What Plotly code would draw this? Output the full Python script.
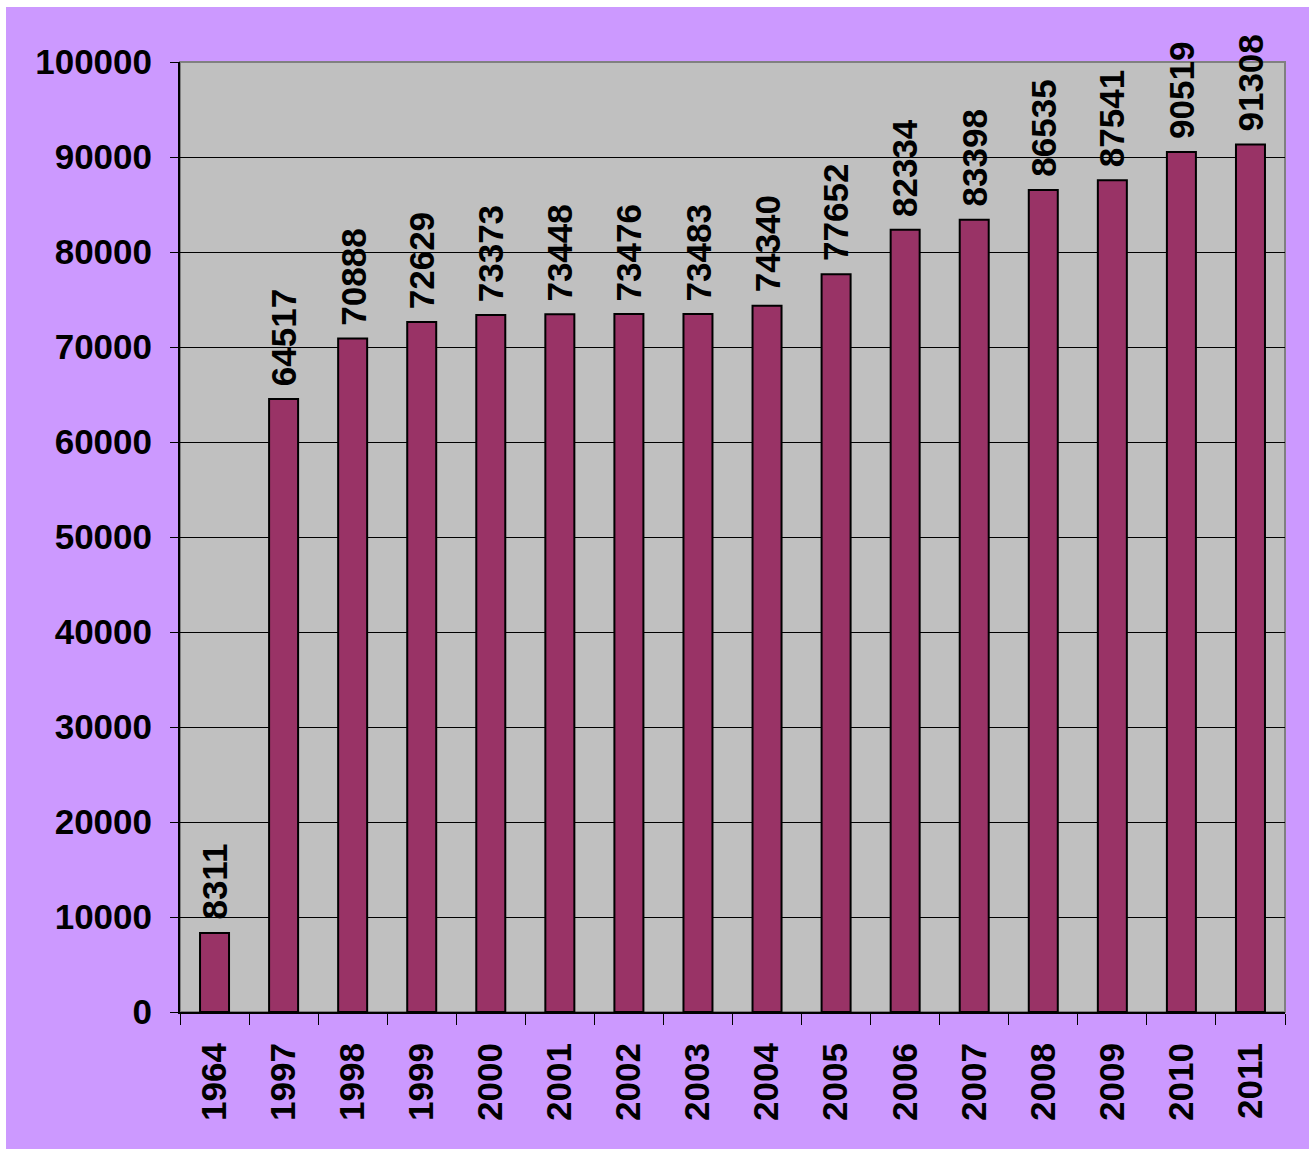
import plotly.graph_objects as go

years = ["1964", "1997", "1998", "1999", "2000", "2001", "2002", "2003",
         "2004", "2005", "2006", "2007", "2008", "2009", "2010", "2011"]
values = [8311, 64517, 70888, 72629, 73373, 73448, 73476, 73483,
          74340, 77652, 82334, 83398, 86535, 87541, 90519, 91308]
y_ticks = [0, 10000, 20000, 30000, 40000, 50000, 60000, 70000, 80000, 90000, 100000]

FONT = dict(family="Arial, 'Liberation Sans', sans-serif", size=35, color="black", weight="bold")

fig = go.Figure()
fig.add_trace(go.Bar(
    x=years, y=values,
    marker=dict(color="#993366", line=dict(color="black", width=2)),
    hoverinfo="x+y",
))

annotations = [
    dict(x=i, y=v, xref="x", yref="y", text="<b>%d</b>" % v, textangle=-90,
         showarrow=False, yanchor="bottom", xanchor="center", yshift=11, font=FONT)
    for i, v in enumerate(values)
]

W, H = 1309, 1149
L, R, T, B = 180, 24, 62, 137
pw, ph = W - L - R, H - T - B
def px_x(p):
    return (p - L) / pw
def px_y(p):
    return (H - B - p) / ph

shapes = [
    dict(type="rect", xref="paper", yref="paper", layer="below",
         x0=px_x(6), x1=px_x(1312), y0=px_y(1152), y1=px_y(7),
         fillcolor="#CC99FF", line=dict(width=0)),
    dict(type="rect", xref="paper", yref="paper", layer="below",
         x0=0, x1=1, y0=0, y1=1,
         fillcolor="#C0C0C0", line=dict(color="#808080", width=2)),
]

fig.update_layout(
    width=W, height=H, autosize=False,
    margin=dict(l=L, r=R, t=T, b=B, pad=0),
    paper_bgcolor="white",
    plot_bgcolor="rgba(0,0,0,0)",
    bargap=0.58,
    showlegend=False,
    annotations=annotations,
    shapes=shapes,
    font=FONT,
)
fig.update_xaxes(
    type="category", range=[-0.5, len(years) - 0.5], autorange=False,
    tickangle=-90, tickfont=FONT,
    showline=True, linecolor="black", linewidth=2,
    ticks="outside", tickson="boundaries", ticklen=11, tickcolor="black", tickwidth=1,
    ticklabelstandoff=15, showgrid=False, zeroline=False,
)
fig.update_yaxes(
    range=[0, 100000], autorange=False, tickvals=y_ticks, tickformat="d", tickfont=FONT,
    showline=True, linecolor="black", linewidth=2,
    ticks="outside", ticklen=8, tickcolor="black", tickwidth=1,
    ticklabelstandoff=11,
    showgrid=True, gridcolor="black", gridwidth=1, zeroline=False,
)

fig.write_html("out.html", config={"displayModeBar": False},
               post_script="document.body.style.margin='0';")
